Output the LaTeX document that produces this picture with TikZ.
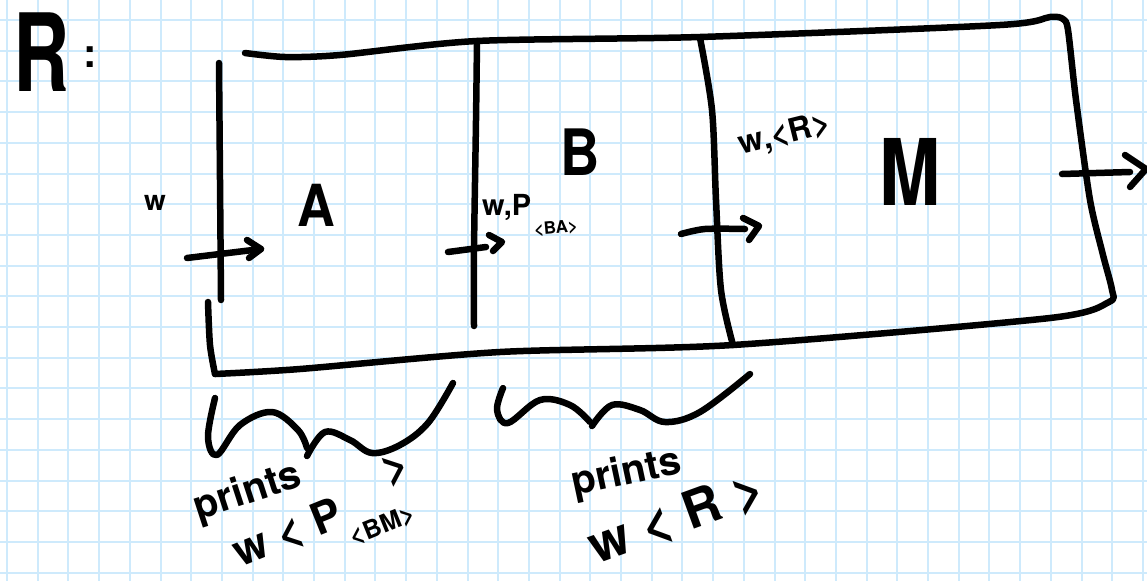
\documentclass[tikz,border=0pt]{standalone}
\usepackage{fontspec}
\setmainfont{TeX Gyre Heros}
\definecolor{gridblue}{RGB}{206,234,252}
\begin{document}
\begin{tikzpicture}[x=1pt,y=-1pt,
  ink/.style={line width=6.5pt,line cap=round,line join=round},
  lbl/.style={inner sep=0pt,anchor=center,font=\bfseries},
  gridline/.style={gridblue,line width=2pt}]
\useasboundingbox (0,0) rectangle (1147,581);
\fill[white] (0,0) rectangle (1147,581);
\foreach \i in {0,...,37} \draw[gridline] ({7+30.7*\i},0) -- ({7+30.7*\i},581);
\foreach \j in {0,...,18} \draw[gridline] (0,{20+30.7*\j}) -- (1147,{20+30.7*\j});

% R :
\node[lbl] (Rlabel) at (42,52) {\fontsize{108}{108}\selectfont\scalebox{0.72}[1]{R}};
\node[lbl] (colon) at (90,57) {\fontsize{40}{40}\selectfont :};

% outer frame
\draw[ink] plot[smooth,tension=0.45] coordinates {(245,53) (285,57) (340,55) (477,41) (700,37) (1000,25) (1050,17) (1063,19) (1068,30) (1076,100) (1090,200) (1103,255) (1112,290) (1109,302) (1050,318) (733,345) (500,352) (300,369) (215,374)};
\draw[ink] plot[smooth,tension=0.5] coordinates {(215,374) (210,345) (208,302)};
\draw[ink] plot[smooth,tension=0.5] coordinates {(219,63) (220,180) (221,300)};
% dividers
\draw[ink] plot[smooth,tension=0.5] coordinates {(477,41) (476,120) (474,250) (474,326)};
\draw[ink] plot[smooth,tension=0.5] coordinates {(700,38) (712,110) (716,200) (721,290) (733,345)};

% machine labels
\node[lbl] (A) at (316,205) {\fontsize{58}{58}\selectfont\scalebox{0.9}[1]{A}};
\node[lbl] (B) at (580,152) {\fontsize{64}{64}\selectfont\scalebox{0.85}[1]{B}};
\node[lbl] (M) at (910,172) {\fontsize{92}{92}\selectfont\scalebox{0.8}[1]{M}};

% input arrow
\node[lbl] (win) at (155,203) {\fontsize{28}{28}\selectfont w};
\coordinate (inS) at (187,258);
\coordinate (inE) at (261,249);
\draw[ink] (inS) -- (inE);
\draw[ink] (247,240) -- (inE) -- (249,258);

% A -> B arrow
\coordinate (abS) at (448,252);
\coordinate (abE) at (502,242);
\draw[ink] (abS) -- (486,247);
\draw[ink] (489,235) -- (abE) -- (493,251);
\node[lbl,anchor=west] (wP) at (482,207) {\fontsize{29}{29}\selectfont w,P};
\node[lbl,rotate=5] (wPsub) at (556,228) {\fontsize{17}{17}\selectfont <BA>};

% B -> M arrow
\coordinate (bmS) at (681,234);
\coordinate (bmE) at (759,226);
\draw[ink] plot[smooth,tension=0.5] coordinates {(bmS) (705,229) (745,229)};
\draw[ink] (743,218) -- (bmE) -- (749,240);
\node[lbl,rotate=14] (wR) at (785,135) {\fontsize{32}{32}\selectfont w,<R>};

% output arrow
\coordinate (outS) at (1062,174);
\coordinate (outE) at (1146,169);
\draw[ink] (outS) -- (1130,172);
\draw[ink] (1125,155) -- (outE) -- (1130,187);

% brace under A
\draw[ink] plot[smooth,tension=0.6] coordinates {(215,398) (208,437) (217,455) (240,425) (272,412) (298,430) (307,448)};
\draw[ink] plot[smooth,tension=0.6] coordinates {(307,456) (325,432) (350,440) (372,453) (400,445) (428,423) (453,383)};
% brace under B
\draw[ink] plot[smooth,tension=0.6] coordinates {(503,388) (497,410) (508,423) (540,400) (570,405) (590,422)};
\draw[ink] plot[smooth,tension=0.6] coordinates {(592,426) (612,405) (640,410) (665,422) (700,412) (750,374)};

% texts under A
\node[lbl,rotate=18] (printsA) at (248,493) {\fontsize{40}{40}\selectfont prints};
\node[lbl,rotate=22,anchor=base west] (wPA) at (240,568) {\fontsize{44}{44}\selectfont w < P\raisebox{-0.5em}{\fontsize{25}{25}\selectfont <BM>}\kern-0.3em\raisebox{0.5em}{>}};

% texts under B
\node[lbl,rotate=12] (printsB) at (627,474) {\fontsize{40}{40}\selectfont prints};
\node[lbl,rotate=20] (wRB) at (677,518) {\fontsize{52}{52}\selectfont w < R >};
\end{tikzpicture}
\end{document}
